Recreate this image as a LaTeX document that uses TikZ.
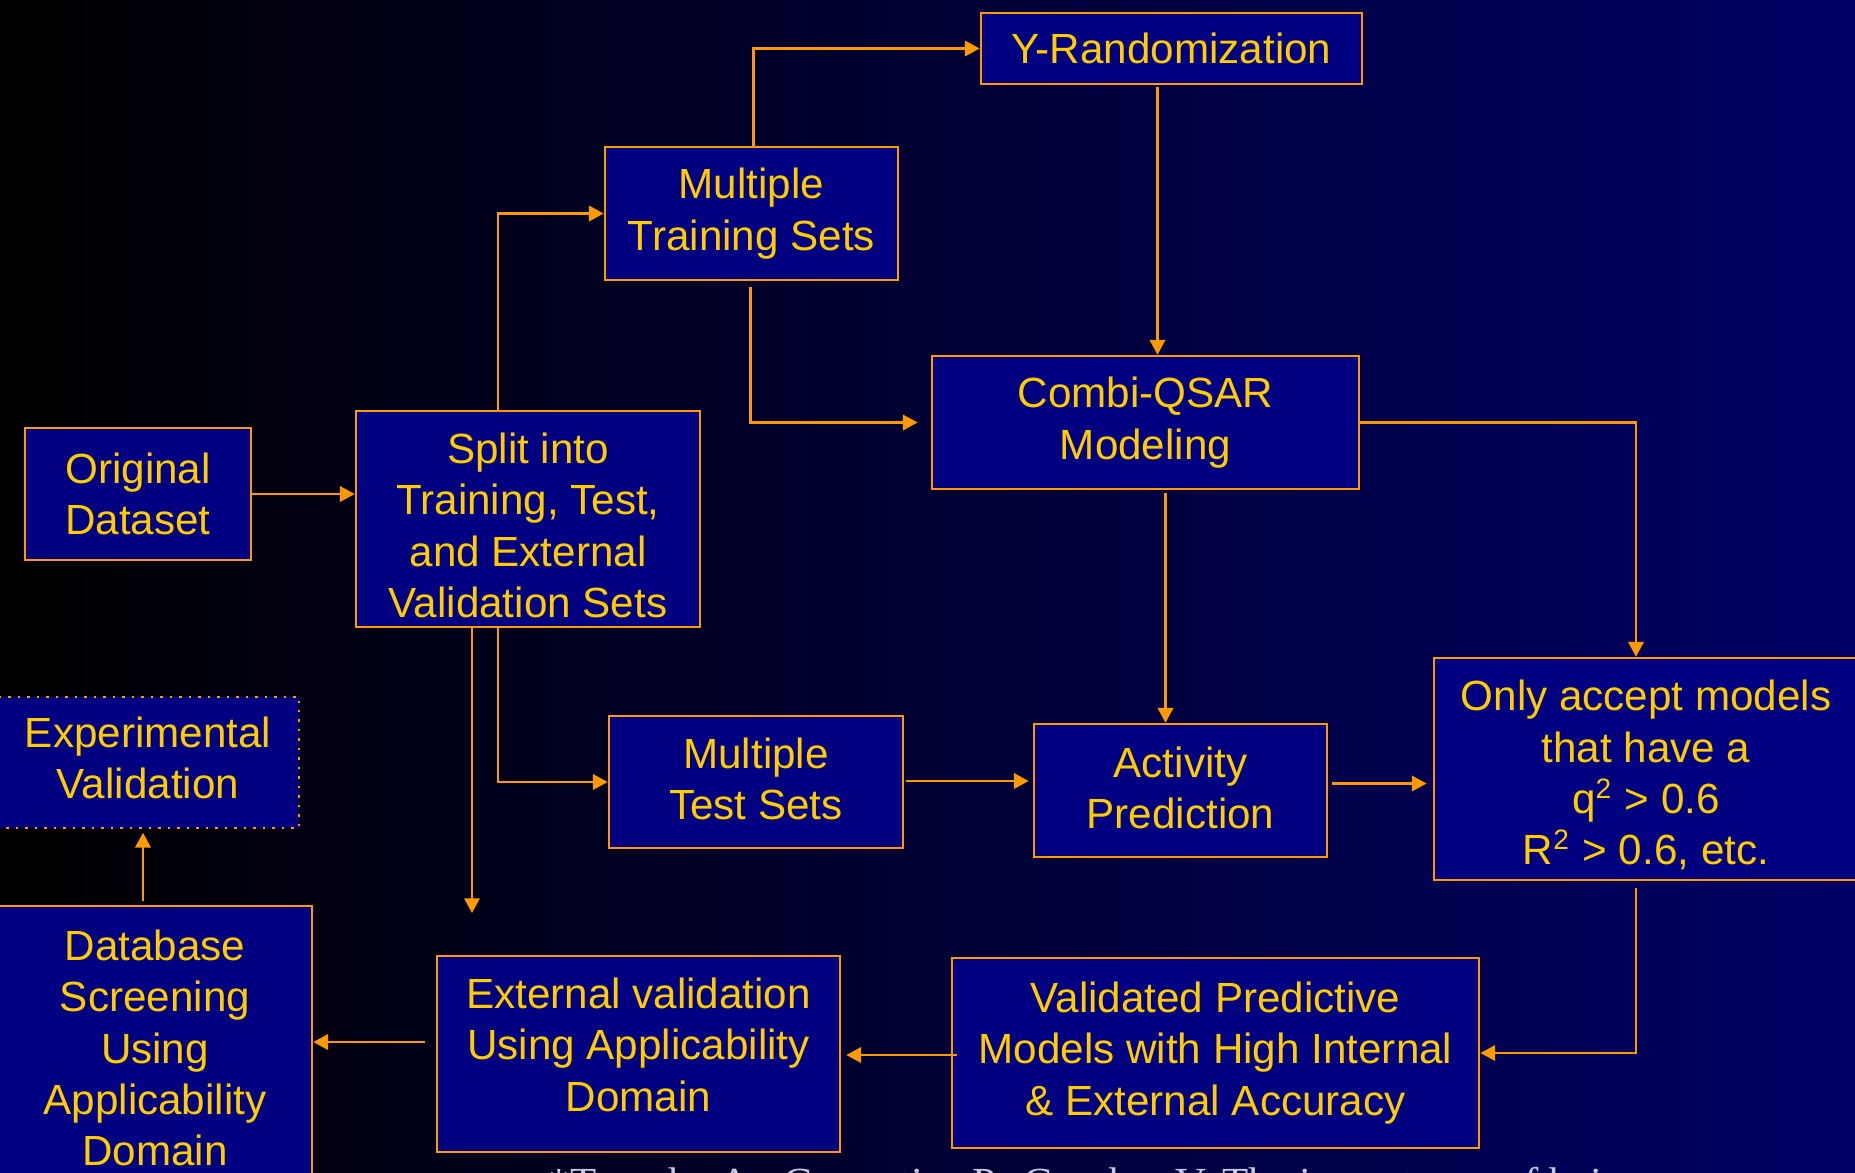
\documentclass[tikz,border=0pt]{standalone}
\usepackage{fontspec}
\setmainfont{Liberation Sans}
\newfontfamily\citefont{Liberation Serif}
\usetikzlibrary{arrows.meta,calc}
\definecolor{boxnavy}{RGB}{0,0,128}
\definecolor{lineorange}{RGB}{255,153,0}
\definecolor{textyellow}{RGB}{255,204,0}
\definecolor{bgnavy}{RGB}{0,0,102}
\definecolor{citegray}{RGB}{200,200,225}

\begin{document}
\begin{tikzpicture}[x=0.01cm,y=-0.01cm]

	\useasboundingbox (0,0) rectangle (1855,1172);
	\clip (0,0) rectangle (1855,1172);
	\shade[left color=black,right color=bgnavy] (0,0) rectangle (1855,1172);
	
	\tikzset{stage/.style=
		{draw=lineorange,line width=0.7pt,fill=boxnavy,text=textyellow,
			align=center,inner sep=0pt,font=\fontsize{12}{14.6}\selectfont}}
	\tikzset{conn/.style=
		{draw=lineorange,line width=0.6pt,-{Triangle[length=4.2pt,width=4.4pt]}}}
	
	\node[stage,minimum width=3.81cm,minimum height=0.71cm] (yrand) at (1171.5,48.5) {Y-Randomization};
	\node[stage,minimum width=2.93cm,minimum height=1.33cm] (trainsets) at (751.5,213.5) {Multiple\\Training Sets};
	\node[stage,minimum width=4.27cm,minimum height=1.33cm] (combi) at (1145.5,422.5) {Combi-QSAR\\Modeling};
	\node[stage,minimum width=2.26cm,minimum height=1.32cm] (orig) at (138,494) {Original\\Dataset};
	\node[stage,text height=1.97cm,minimum width=3.44cm,minimum height=2.16cm] (split) at (528,519) {Split into\\Training, Test,\\and External\\Validation Sets};
	\node[stage,dotted,line width=0.4pt,text depth=0.09cm,minimum width=3.02cm,minimum height=1.31cm] (expval) at (148,762.5) {Experimental\\Validation};
	\node[stage,text depth=0.06cm,minimum width=2.94cm,minimum height=1.32cm] (testsets) at (756,782) {Multiple\\Test Sets};
	\node[stage,text depth=0.06cm,minimum width=2.93cm,minimum height=1.33cm] (actpred) at (1180.5,790.5) {Activity\\Prediction};
	\node[stage,text height=1.97cm,minimum width=4.24cm,minimum height=2.22cm] (accept) at (1646,769) {Only accept models\\that have a\\q\textsuperscript{2} > 0.6\\R\textsuperscript{2} > 0.6, etc.};
	\node[stage,minimum width=3.14cm,minimum height=2.84cm] (dbscreen) at (155,1048) {Database\\Screening\\Using\\Applicability\\Domain};
	\node[stage,text depth=0.19cm,minimum width=4.03cm,minimum height=1.96cm] (extval) at (638.5,1054) {External validation\\Using Applicability\\Domain};
	\node[stage,minimum width=5.27cm,minimum height=1.90cm] (validated) at (1215.5,1053) {Validated Predictive\\Models with High Internal\\\& External Accuracy};
	
	\draw[conn] (orig.east) -- (split.west |- orig.east);
	\draw[conn] ($(split.north)+(-30,0)$) |- (trainsets.west);
	\draw[conn] ($(trainsets.north)+(2,0)$) |- (yrand.west);
	\draw[conn] ($(yrand.south)+(-14,2)$) coordinate (ys) -- (ys |- combi.north);
	\draw[conn,shorten >=0.13cm] ($(trainsets.south)+(-1,6)$) |- (combi.west);
	\draw[conn] (combi.east) -| ($(accept.north)+(-10,0)$);
	\draw[conn] ($(combi.south)+(20,3)$) coordinate (cs) -- (cs |- actpred.north);
	\draw[conn] ($(split.south)+(-30,0)$) |- (testsets.west);
	\coordinate (extin) at (472,913);
	\draw[conn] (split.south -| extin) -- (extin);
	\draw[conn,shorten >=0.04cm] ($(testsets.east)+(2,-1)$) coordinate (te) -- (te -| actpred.west);
	\draw[conn,shorten >=0.06cm] ($(actpred.east)+(4,-7)$) coordinate (ae) -- (ae -| accept.west);
	\draw[conn] ($(accept.south)+(-10,7)$) |- (validated.east);
	\draw[conn,shorten >=0.05cm] ($(validated.west)+(6,2)$) coordinate (vw) -- (vw -| extval.east);
	\draw[conn] ($(extval.west)+(-11,-12)$) coordinate (xw) -- (xw -| dbscreen.east);
	\draw[conn,shorten >=0.04cm] ($(dbscreen.north)+(-12,-4)$) coordinate (dn) -- (dn |- expval.south);
	
	\node[anchor=base west,inner sep=0pt,text=citegray,font=\citefont\fontsize{12.2}{14}\selectfont] (cite) at (548,1197) {*Tropsha A., Gramatica P., Gombar V. The importance of being};
\end{tikzpicture}
\end{document}
